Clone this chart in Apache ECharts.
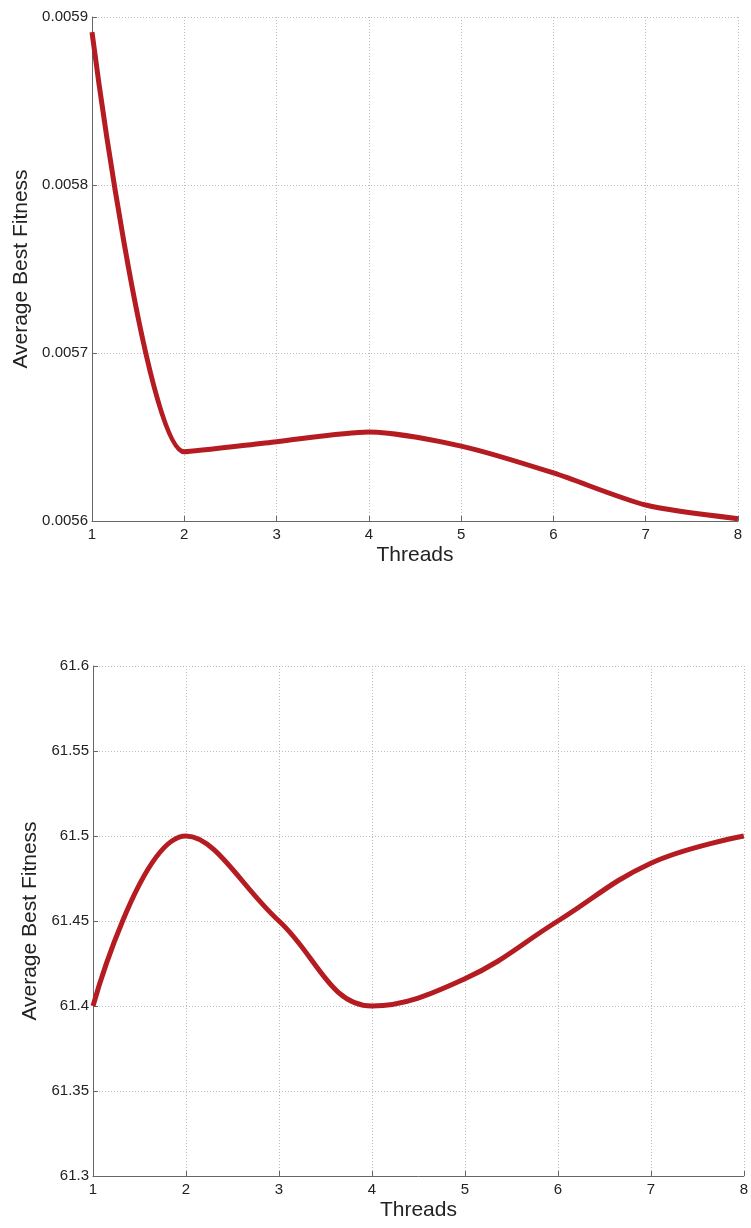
<!DOCTYPE html>
<html><head><meta charset="utf-8">
<script src="https://cdn.jsdelivr.net/npm/echarts@6/dist/echarts.min.js"></script>
<style>html,body{margin:0;padding:0;background:#fff;}#c{width:751px;height:1228px;}</style>
</head><body><div id="c"></div>
<script>
const threads = [1, 2, 3, 4, 5, 6, 7, 8];
const fitnessTop = [0.005891, 0.0056412, 0.0056472, 0.005653, 0.0056446, 0.0056286, 0.0056095, 0.0056014];
const fitnessBottom = [61.4, 61.5, 61.45, 61.4, 61.416, 61.45, 61.484, 61.5];
const xTicks = [1, 8, 1];
const yTopTicks = [0.0056, 0.0059, 0.0001];
const yBottomTicks = [61.3, 61.6, 0.05];

const font = '"Liberation Sans", Arial, sans-serif';
const lineColor = '#b51c22';
const axisColor = '#666';
const textColor = '#222';

function xAxis(gridIndex, nameGap) {
  return {
    gridIndex, type: 'value', min: xTicks[0], max: xTicks[1], interval: xTicks[2],
    name: 'Threads', nameLocation: 'middle', nameGap,
    nameTextStyle: {fontFamily: font, fontSize: 21, color: textColor},
    axisLine: {lineStyle: {color: axisColor, width: 1}},
    axisTick: {inside: true, length: 5, lineStyle: {color: axisColor}},
    axisLabel: {fontFamily: font, fontSize: 15, color: textColor, margin: 6},
    splitLine: {show: true, lineStyle: {color: '#bdbdbd', type: [1, 2], width: 1}}
  };
}
function yAxis(gridIndex, ticks, nameGap, fmt) {
  return {
    gridIndex, type: 'value', min: ticks[0], max: ticks[1], interval: ticks[2],
    name: 'Average Best Fitness', nameLocation: 'middle', nameGap,
    nameTextStyle: {fontFamily: font, fontSize: 21, color: textColor},
    axisLine: {show: true, lineStyle: {color: axisColor, width: 1}},
    axisTick: {show: true, inside: true, length: 5, lineStyle: {color: axisColor}},
    axisLabel: {fontFamily: font, fontSize: 15, color: textColor, margin: 4, formatter: fmt},
    splitLine: {show: true, lineStyle: {color: '#bdbdbd', type: [1, 2], width: 1}}
  };
}

const chart = echarts.init(document.getElementById('c'), null, {renderer: 'canvas'});
chart.setOption({
  animation: false,
  backgroundColor: '#fff',
  grid: [
    {left: 92, right: 13, top: 17, height: 504},
    {left: 93, right: 1, top: 666, height: 510}
  ],
  xAxis: [xAxis(0, 24), xAxis(1, 24)],
  yAxis: [
    yAxis(0, yTopTicks, 57, v => v.toFixed(4)),
    yAxis(1, yBottomTicks, 49, v => String(parseFloat(v.toFixed(2))))
  ],
  series: [
    {type: 'line', xAxisIndex: 0, yAxisIndex: 0, data: threads.map((t, i) => [t, fitnessTop[i]]),
     smooth: 0.25, symbol: 'none', lineStyle: {color: lineColor, width: 5}},
    {type: 'line', xAxisIndex: 1, yAxisIndex: 1, data: threads.map((t, i) => [t, fitnessBottom[i]]),
     smooth: 0.4, symbol: 'none', lineStyle: {color: lineColor, width: 5}}
  ]
});
</script></body></html>
